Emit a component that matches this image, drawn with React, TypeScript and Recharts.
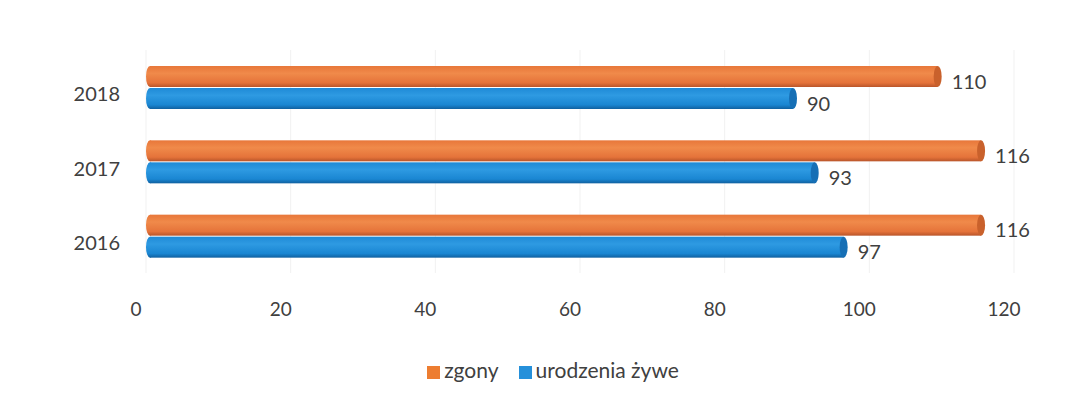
import React from "react";
import { BarChart, Bar, XAxis, YAxis, CartesianGrid, Legend, LabelList } from "recharts";

const years = ["2018", "2017", "2016"];
const zgony = [110, 116, 116];
const urodzenia = [90, 93, 97];
const xTicks = [0, 20, 40, 60, 80, 100, 120];

const data = years.map((y, i) => ({ year: y, zgony: zgony[i], urodzenia: urodzenia[i] }));

const FONT = "Lato, 'Open Sans', sans-serif";

const makeCylinder = (gradId: string, capColor: string) => (props: any) => {
  const { x, y, width, height } = props;
  if (width == null || width <= 0) return null;
  const rx = 4;
  const ry = height / 2;
  return (
    <g>
      <ellipse cx={x + rx} cy={y + ry} rx={rx} ry={ry} fill={`url(#${gradId})`} />
      <rect x={x + rx} y={y} width={Math.max(width - 2 * rx, 0)} height={height} fill={`url(#${gradId})`} />
      <ellipse cx={x + width - rx} cy={y + ry} rx={rx} ry={ry} fill={capColor} />
    </g>
  );
};

const legendOrder: Record<string, number> = { zgony: 0, "urodzenia żywe": 1 };

export default function App() {
  return (
    <div style={{ width: 1075, height: 386, background: "#fff" }}>
      <BarChart
        width={1075}
        height={386}
        data={data}
        layout="vertical"
        margin={{ top: 42, right: 69, bottom: 12, left: 0 }}
        barCategoryGap={15}
        barGap={1}
        barSize={21}
      >
        <defs>
          <linearGradient id="gOrange" x1="0" y1="0" x2="0" y2="1">
            <stop offset="0%" stopColor="#e8773a" />
            <stop offset="35%" stopColor="#f08a4a" />
            <stop offset="80%" stopColor="#e5733a" />
            <stop offset="100%" stopColor="#b9552a" />
          </linearGradient>
          <linearGradient id="gBlue" x1="0" y1="0" x2="0" y2="1">
            <stop offset="0%" stopColor="#1f8ad6" />
            <stop offset="35%" stopColor="#2e9ae2" />
            <stop offset="80%" stopColor="#1a86d2" />
            <stop offset="100%" stopColor="#10609f" />
          </linearGradient>
        </defs>
        <CartesianGrid horizontal={false} stroke="#f1f1f1" />
        <XAxis
          type="number"
          domain={[0, 120]}
          ticks={xTicks}
          axisLine={false}
          tickLine={false}
          tickSize={0}
          tickMargin={30}
          height={84}
          tick={{ fill: "#404040", fontSize: 19, fontFamily: FONT, dx: -10 }}
        />
        <YAxis
          type="category"
          dataKey="year"
          width={138}
          axisLine={false}
          tickLine={false}
          tickSize={0}
          tickMargin={26}
          tick={{ fill: "#404040", fontSize: 20, fontFamily: FONT, dy: 7 }}
        />
        <Legend
          verticalAlign="bottom"
          iconType="square"
          iconSize={13}
          itemSorter={(item: any) => legendOrder[item.value] ?? 0}
          wrapperStyle={{ fontFamily: FONT, fontSize: 21, left: 47 }}
          formatter={(v: string) => (
            <span style={{ color: "#404040", marginRight: v === "zgony" ? 10 : 0 }}>{v}</span>
          )}
        />
        <Bar
          dataKey="zgony"
          name="zgony"
          fill="#ED7D31"
          isAnimationActive={false}
          shape={makeCylinder("gOrange", "#c9612c")}
        >
          <LabelList
            dataKey="zgony"
            position="right"
            offset={10}
            style={{ fill: "#404040", fontSize: 20, fontFamily: FONT }}
            dy={5}
          />
        </Bar>
        <Bar
          dataKey="urodzenia"
          name="urodzenia żywe"
          fill="#2590DA"
          isAnimationActive={false}
          shape={makeCylinder("gBlue", "#166fb5")}
        >
          <LabelList
            dataKey="urodzenia"
            position="right"
            offset={10}
            style={{ fill: "#404040", fontSize: 20, fontFamily: FONT }}
            dy={5}
          />
        </Bar>
      </BarChart>
    </div>
  );
}
